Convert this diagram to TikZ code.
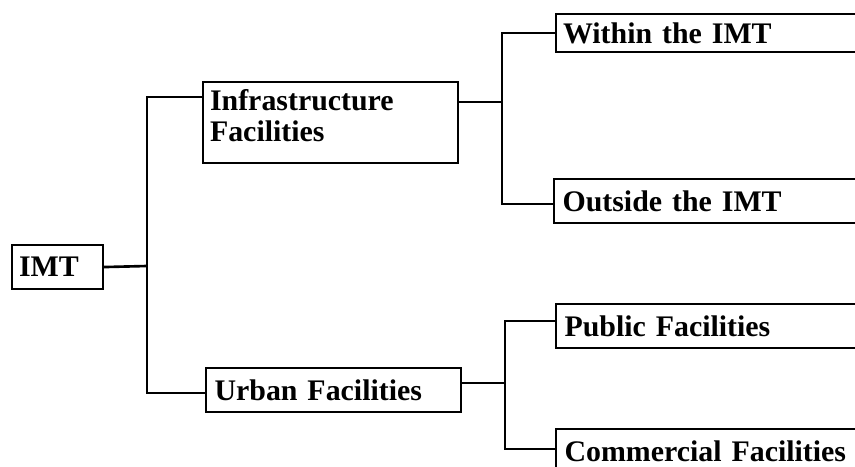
\documentclass[tikz,border=0pt]{standalone}
\usepackage{fontspec}
\setmainfont{Liberation Serif}
\usepackage{tikz}
\usetikzlibrary{calc}
\tikzstyle{link} = [line width=1.5pt]

\begin{document}
\begin{tikzpicture}
[box/.style={rectangle,draw=black,line width=1.2pt,anchor=north west,align=left,
  inner xsep=0.17cm,inner ysep=0pt,minimum height=0.88cm,
  font=\bfseries\fontsize{17}{17.6}\selectfont},
rootbox/.style={box,inner xsep=0.14cm,text width=1.54cm},
midbox/.style={box,text width=4.76cm},
leafbox/.style={box,text width=6.6cm}]
\useasboundingbox (0,0) rectangle (17.1,9.32);
\clip (0,0) rectangle (17.1,9.32);

% boxes
\node[rootbox] (imt) at (0.22,4.44) {IMT};
\node[midbox,inner xsep=0.14cm,text width=4.82cm,minimum height=1.62cm] (infra) at (4.04,7.7)
  {Infrastructure\\Facilities\rule[-0.3cm]{0pt}{0pt}};
\node[midbox] (urban) at (4.1,1.98) {Urban Facilities};
\node[leafbox,inner xsep=0.14cm,minimum height=0.76cm] (within) at (11.1,9.06) {Within the IMT};
\node[leafbox] (outside) at (11.06,5.76) {Outside the IMT};
\node[leafbox] (public) at (11.1,3.26) {Public Facilities};
\node[leafbox] (commercial) at (11.1,0.76) {Commercial Facilities};

% junctions
\coordinate (j1) at (2.94,4.0);
\coordinate (j2) at (10.04,7.28);
\coordinate (j3) at (10.1,1.66);

% connectors
\draw[link] (imt.east) -- (j1);
\draw[link] ([yshift=-0.32cm]infra.north west) -| (j1) |- ([yshift=-0.06cm]urban.west);
\draw[link] (infra.east |- j2) -- (j2);
\draw[link] (within.west) -| (j2) |- ([yshift=-0.06cm]outside.west);
\draw[link] (urban.east |- j3) -- (j3);
\draw[link] ([yshift=0.1cm]public.west) -| (j3) |- ([yshift=0.04cm]commercial.west);
\end{tikzpicture}
\end{document}
